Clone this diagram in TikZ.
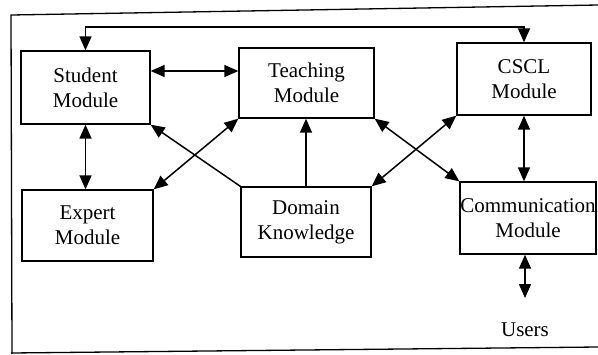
\documentclass[tikz,border=0pt]{standalone}
\usepackage{fontspec}
\setmainfont{Liberation Serif}
\usetikzlibrary{arrows.meta}
\tikzset{
  modbox/.style={draw, line width=1.3pt, align=center, inner sep=0pt,
    font=\fontsize{21}{25}\selectfont},
  link/.style={line width=1.5pt},
  tip/.style={Triangle[length=14pt,width=12pt]},
  biarrow/.style={link, {Triangle[length=14pt,width=12pt]}-{Triangle[length=14pt,width=12pt]}},
  onearrow/.style={link, -{Triangle[length=14pt,width=12pt]}}
}
\begin{document}
\begin{tikzpicture}[x=1pt,y=-1pt]
\useasboundingbox (0,0) rectangle (598,354);
% outer frame
\draw[line width=1.3pt] (598,5) -- (11,15) -- (12,354);
\draw[line width=1.3pt] (11,353) -- (598,347);

% modules
\node[modbox, minimum width=129pt, minimum height=73pt] (student) at (85.5,87.5) {Student\\Module};
\node[modbox, minimum width=135pt, minimum height=70pt] (teaching) at (306.5,83) {Teaching\\Module};
\node[modbox, minimum width=134pt, minimum height=72pt] (cscl) at (524,79) {CSCL\\Module};
\node[modbox, minimum width=131pt, minimum height=71pt] (expert) at (87.5,225.5) {Expert\\Module};
\node[modbox, minimum width=130pt, minimum height=70pt] (domain) at (306,222) {Domain\\Knowledge};
\node[modbox, minimum width=136pt, minimum height=72pt, text width=136pt] (comm) at (528,218) {Communication\\Module};
\node[font=\fontsize{21}{25}\selectfont, inner sep=2pt] (users) at (525,330) {Users};

% helper points
\coordinate (toprail) at (0,27);
\coordinate (midrow) at (0,71);
\coordinate (usersend) at (525,298);

% connectors
\draw[biarrow] (student.north) |- (toprail -| cscl.north) -- (cscl.north);
\draw[biarrow] (student.east |- midrow) -- (teaching.west |- midrow);
\draw[biarrow] (student.south) -- (student.south |- expert.north);
\draw[biarrow] (teaching.south west) -- (expert.north east);
\draw[onearrow] (domain.north west) -- (student.south east);
\draw[onearrow] (domain.north) -- (domain.north |- teaching.south);
\draw[biarrow] (teaching.south east) -- (comm.north west);
\draw[biarrow] (cscl.south west) -- (domain.north east);
\draw[biarrow] (cscl.south) -- (cscl.south |- comm.north);
\draw[biarrow] (usersend |- comm.south) -- (usersend);
\end{tikzpicture}
\end{document}
